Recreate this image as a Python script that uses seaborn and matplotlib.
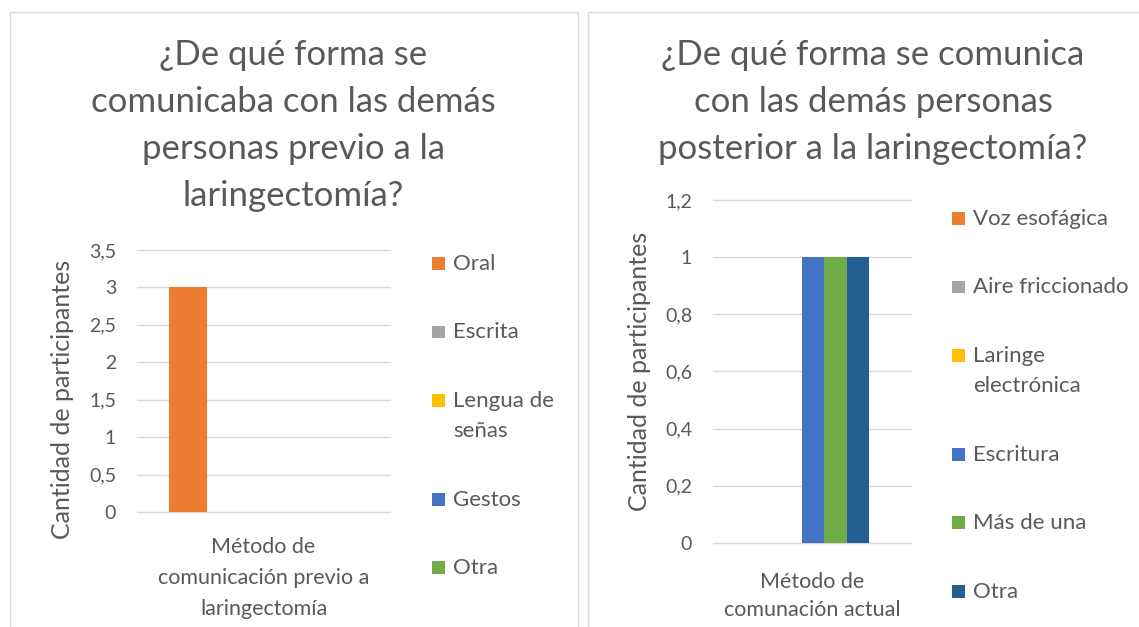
import matplotlib
matplotlib.use("Agg")
import matplotlib.pyplot as plt
from matplotlib.patches import Patch, Rectangle
from matplotlib.legend_handler import HandlerPatch
from matplotlib.ticker import FuncFormatter, MultipleLocator
import seaborn as sns
import pandas as pd

# ---------------- data ----------------
left_title = "¿De qué forma se\ncomunicaba con las demás\npersonas previo a la\nlaringectomía?"
left_category = ["Método de\ncomunicación previo a\nlaringectomía"]
left_series = ["Oral", "Escrita", "Lengua de\nseñas", "Gestos", "Otra"]
left_values = [3, 0, 0, 0, 0]
left_colors = ["#ED7D31", "#A5A5A5", "#FFC000", "#4472C4", "#70AD47"]

right_title = "¿De qué forma se comunica\ncon las demás personas\nposterior a la laringectomía?"
right_category = ["Método de\ncomunación actual"]
right_series = ["Voz esofágica", "Aire friccionado", "Laringe\nelectrónica",
                "Escritura", "Más de una", "Otra"]
right_values = [0, 0, 0, 1, 1, 1]
right_colors = ["#ED7D31", "#A5A5A5", "#FFC000", "#4472C4", "#70AD47", "#255E91"]

y_label = "Cantidad de participantes"

# ---------------- style ----------------
sns.set_theme(style="white")
plt.rcParams["font.family"] = ["Lato", "DejaVu Sans"]
TXT = "#595959"
GRID = "#D9D9D9"

W, H = 1139, 627
fig = plt.figure(figsize=(W / 100, H / 100), dpi=100)
fig.patch.set_facecolor("white")

def px_axes(x0, y0, x1, y1):
    return fig.add_axes([x0 / W, 1 - y1 / H, (x1 - x0) / W, (y1 - y0) / H])

# panel borders
for (x0, x1) in [(10, 578), (588, 1145)]:
    fig.patches.append(Rectangle((x0 / W, -0.05), (x1 - x0) / W, 1.05 - 12 / H,
                                 transform=fig.transFigure, fill=False,
                                 edgecolor=GRID, linewidth=1.0, zorder=0))

comma_fmt = FuncFormatter(lambda v, p: f"{v:g}".replace(".", ","))

LEG_FS = 16
SQ = 0.58  # legend square size in font units

def square(legend, orig_handle, xdescent, ydescent, width, height, fontsize):
    s = SQ * fontsize
    return Rectangle((-xdescent, -ydescent + (height - s) / 2), s, s)

def draw(ax, category, series, values, colors, width, ylim, step, xlim,
         ylab_xy, xlab_y, xlab_ls, leg_xy):
    df = pd.DataFrame({"cat": category * len(series), "serie": series, "val": values})
    sns.barplot(data=df, x="cat", y="val", hue="serie", hue_order=series,
                palette=colors, saturation=1, width=width, errorbar=None,
                linewidth=0, legend=False, ax=ax)
    ax.set_ylim(*ylim)
    ax.set_xlim(*xlim)
    ax.yaxis.set_major_locator(MultipleLocator(step))
    ax.yaxis.set_major_formatter(comma_fmt)
    ax.tick_params(axis="y", length=0, pad=15, labelsize=14, labelcolor=TXT)
    ax.tick_params(axis="x", length=0, labelbottom=False)
    for s in ax.spines.values():
        s.set_visible(False)
    ax.grid(axis="y", color=GRID, linewidth=1.0)
    ax.set_axisbelow(True)
    for gl in ax.get_ygridlines():
        gl.set_clip_on(False)
    ax.set_ylabel(y_label, fontsize=18, color=TXT)
    ax.yaxis.label.set_va("center")
    ax.yaxis.set_label_coords(*ylab_xy)
    ax.set_xlabel(category[0], fontsize=15.5, color=TXT, linespacing=xlab_ls)
    ax.xaxis.label.set_va("top")
    ax.xaxis.set_label_coords(0.5, xlab_y)
    handles = [Patch(facecolor=c, edgecolor="none") for c in colors]
    leg = ax.legend(handles=handles, labels=series, loc="upper left",
                    bbox_to_anchor=(leg_xy[0] / W, 1 - leg_xy[1] / H),
                    bbox_transform=fig.transFigure, frameon=False, borderpad=0,
                    borderaxespad=0, fontsize=LEG_FS, labelcolor=TXT,
                    handlelength=SQ, handleheight=0.95, handletextpad=0.36,
                    labelspacing=2.18,
                    handler_map={Patch: HandlerPatch(patch_func=square)})
    for t in leg.get_texts():
        t.set_linespacing(1.65)
    # align each legend square with the first line of its label
    for col in leg._legend_handle_box.get_children():
        for row in col.get_children():
            row.align = "top"

axL = px_axes(137, 250, 390, 512)
draw(axL, left_category, left_series, left_values, left_colors, 0.75,
     (0, 3.5), 0.5, (-0.5, 0.5), (-0.296, 0.43), -0.094, 1.7, (432, 254))

axR = px_axes(713, 200, 911, 543)
draw(axR, right_category, right_series, right_values, right_colors, 0.676,
     (0, 1.2), 0.2, (-0.449, 0.551), (-0.369, 0.50), -0.086, 1.45, (952, 209))

fig.text(293 / W, 1 - 125.5 / H, left_title, ha="center", va="center",
         fontsize=25, color=TXT, linespacing=1.57)
fig.text(873 / W, 1 - 102 / H, right_title, ha="center", va="center",
         fontsize=25, color=TXT, linespacing=1.57)

fig.savefig("out.png", dpi=100, facecolor="white")
